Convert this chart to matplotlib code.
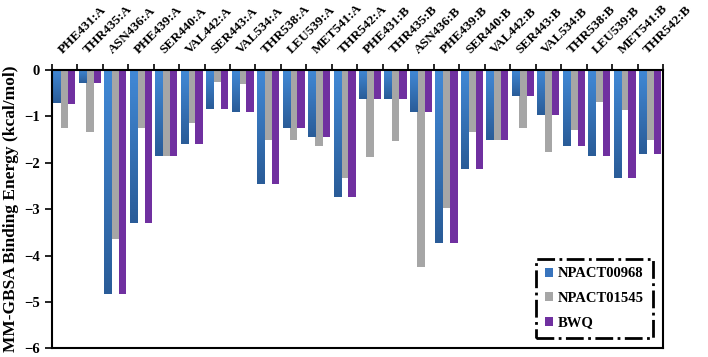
import numpy as np
import matplotlib
matplotlib.use("Agg")
import matplotlib.pyplot as plt
from matplotlib.colors import LinearSegmentedColormap

plt.rcParams["font.family"] = ["Liberation Serif", "DejaVu Serif"]
plt.rcParams["font.weight"] = "bold"

# residues
residues = [
    "PHE431:A", "THR435:A", "ASN436:A", "PHE439:A", "SER440:A", "VAL442:A",
    "SER443:A", "VAL534:A", "THR538:A", "LEU539:A", "MET541:A", "THR542:A",
    "PHE431:B", "THR435:B", "ASN436:B", "PHE439:B", "SER440:B", "VAL442:B",
    "SER443:B", "VAL534:B", "THR538:B", "LEU539:B", "MET541:B", "THR542:B",
]

# energies (kcal/mol)
npact00968 = [
    -0.72, -0.29, -4.82, -3.30, -1.85, -1.59, -0.84, -0.90, -2.45, -1.24, -1.45, -2.74,
    -0.63, -0.63, -0.90, -3.73, -2.14, -1.50, -0.57, -0.98, -1.64, -1.85, -2.33, -1.82,
]
npact01545 = [
    -1.24, -1.34, -3.65, -1.24, -1.85, -1.14, -0.25, -0.30, -1.50, -1.50, -1.64, -2.32,
    -1.88, -1.53, -4.25, -2.97, -1.34, -1.50, -1.26, -1.77, -1.29, -0.70, -0.86, -1.51,
]
bwq = [
    -0.73, -0.29, -4.82, -3.30, -1.85, -1.59, -0.84, -0.90, -2.45, -1.24, -1.45, -2.74,
    -0.63, -0.63, -0.90, -3.73, -2.14, -1.50, -0.57, -0.98, -1.64, -1.85, -2.33, -1.82,
]

series = [
    ("NPACT00968", npact00968, "#3874bd"),
    ("NPACT01545", npact01545, "#a6a6a6"),
    ("BWQ", bwq, "#7030a0"),
]

fig = plt.figure(figsize=(7.08, 3.57), dpi=100)
ax = fig.add_axes([0.073, 0.024, 0.8634, 0.78])

x = np.arange(len(residues))
w = 0.29
# light at the zero line, dark at the bar end
blue_grad = LinearSegmentedColormap.from_list("bg", ["#4189d6", "#2a5c98"])
grad = np.linspace(0, 1, 100).reshape(-1, 1)

for k, (name, vals, col) in enumerate(series):
    bars = ax.bar(x + (k - 1) * w, vals, w, color=col, label=name, zorder=2,
                  linewidth=0)
    if k == 0:
        for b in bars:
            x0, y0 = b.get_x(), b.get_y()
            im = ax.imshow(grad, cmap=blue_grad, aspect="auto", zorder=2.5,
                           extent=[x0, x0 + b.get_width(), y0 + b.get_height(), y0],
                           origin="upper")
            im.set_clip_path(b)

ax.set_xlim(-0.5, len(residues) - 0.5)
ax.set_ylim(-6, 0)
ax.set_yticks(range(-6, 1))
ax.tick_params(axis="y", labelsize=10.5, direction="out", length=5, width=1.2)

ax.xaxis.tick_top()
ax.set_xticks(x)
ax.set_xticklabels(residues, rotation=45, ha="left", va="bottom",
                   rotation_mode="anchor", fontsize=9.6, fontweight="bold")
ax.tick_params(axis="x", which="major", length=0, pad=10)
ax.set_xticks(np.arange(len(residues) + 1) - 0.5, minor=True)
ax.tick_params(axis="x", which="minor", top=True, bottom=False,
               direction="out", length=4, width=1.2)

for s in ax.spines.values():
    s.set_linewidth(1.5)

ax.set_ylabel("MM-GBSA Binding Energy (kcal/mol)", fontsize=12.5, fontweight="bold",
              labelpad=4)

leg = ax.legend(loc="lower right", bbox_to_anchor=(0.995, 0.01),
                prop={"weight": "bold", "size": 10.5}, handlelength=0.6,
                handleheight=0.6, handletextpad=0.3, borderpad=0.6,
                labelspacing=0.8, fancybox=False, framealpha=1)
frame = leg.get_frame()
frame.set_edgecolor("black")
frame.set_linestyle("-.")
frame.set_linewidth(2)

fig.savefig("out.png", dpi=100)
